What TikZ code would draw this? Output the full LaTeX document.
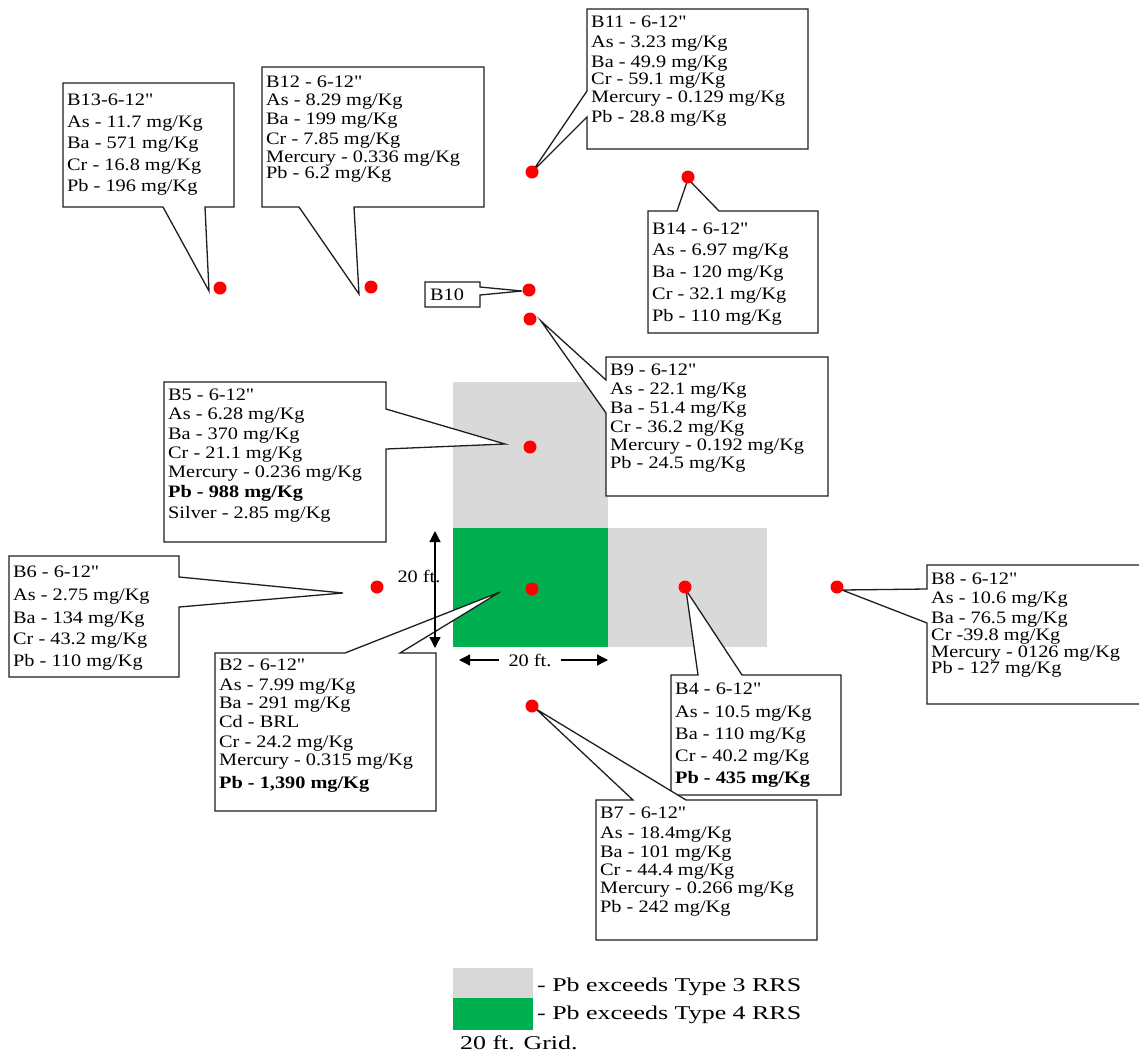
\documentclass[tikz,border=0pt]{standalone}
\usepackage{fontspec}
\setmainfont{Liberation Serif}[FakeStretch=1.16,Ligatures=TeXOff]
\newfontfamily\legendfont{Liberation Serif}[FakeStretch=1.33]
\usetikzlibrary{arrows.meta}
\definecolor{lightgrid}{RGB}{217,217,217}
\definecolor{wordgreen}{RGB}{0,176,80}
\definecolor{dotred}{RGB}{255,0,0}
\definecolor{boxline}{RGB}{30,30,30}

% straight inch mark
\newcommand\inch{\symbol{34}}

% one text line per sample result, placed by its baseline
\newcommand\calloutlines[3]{%
  \foreach \yy/\txt [count=\i] in {#3}{\node[ctext] (#1-\i) at (#2,\yy+5) {\txt};}}

\begin{document}
\begin{tikzpicture}[x=1pt,y=-1pt,
  callout/.style={draw=boxline,line width=1.3pt,fill=white,line join=miter},
  frame/.style={anchor=north west,inner sep=0pt,outer sep=0pt},
  ctext/.style={anchor=base west,inner sep=0pt,font=\fontsize{17.5}{20}\selectfont},
  lab/.style={inner sep=0pt,font=\fontsize{17.5}{20}\selectfont},
  legtext/.style={anchor=base west,inner sep=0pt,font=\legendfont\fontsize{19.5}{22}\selectfont},
  sample/.style={circle,fill=dotred,inner sep=0pt,minimum size=13pt},
  dimline/.style={line width=1.3pt,draw=black},
  tip/.style={-{Triangle[length=11pt,width=11pt]}}]

\useasboundingbox (0,0) rectangle (1139,1055);

% grid cells
\node[frame,fill=lightgrid,minimum width=155pt,minimum height=146pt] (sq5) at (453,382) {};
\node[frame,fill=wordgreen,minimum width=155pt,minimum height=119pt] (sq2) at (453,528) {};
\node[frame,fill=lightgrid,minimum width=159pt,minimum height=119pt] (sq4) at (608,528) {};

% callout frames
\node[frame,minimum width=171pt,minimum height=124pt] (bx13) at (63,83) {};
\node[frame,minimum width=222pt,minimum height=140pt] (bx12) at (262,67) {};
\node[frame,minimum width=221pt,minimum height=140pt] (bx11) at (587,9) {};
\node[frame,minimum width=170pt,minimum height=122pt] (bx14) at (648,211) {};
\node[frame,minimum width=55pt,minimum height=25pt] (bx10) at (425,282) {};
\node[frame,minimum width=222pt,minimum height=139pt] (bx9) at (606,357) {};
\node[frame,minimum width=222pt,minimum height=160pt] (bx5) at (164,382) {};
\node[frame,minimum width=170pt,minimum height=121pt] (bx6) at (9,556) {};
\node[frame,minimum width=221pt,minimum height=158pt] (bx2) at (215,653) {};
\node[frame,minimum width=170pt,minimum height=120pt] (bx4) at (671,675) {};
\node[frame,minimum width=240pt,minimum height=139pt] (bx8) at (927,565) {};
\node[frame,minimum width=221pt,minimum height=140pt] (bx7) at (596,800) {};

% pointer tips
\coordinate (t13) at (209,291);
\coordinate (t12) at (359,294);
\coordinate (t11) at (532,172);
\coordinate (t14) at (688,179);
\coordinate (t10) at (522,291);
\coordinate (t9) at (541,321);
\coordinate (t5) at (505,444);
\coordinate (t6) at (343,593);
\coordinate (t2) at (500,592);
\coordinate (t4) at (686,590);
\coordinate (t8) at (842,590);
\coordinate (t7) at (536,709);

% callout outlines
\draw[callout] (bx13.north west) -- (bx13.north east) -- (bx13.south east) -- (205,207) -- (t13) -- (163,207) -- (bx13.south west) -- cycle;
\draw[callout] (bx12.north west) -- (bx12.north east) -- (bx12.south east) -- (354,207) -- (t12) -- (299,207) -- (bx12.south west) -- cycle;
\draw[callout] (bx11.north west) -- (bx11.north east) -- (bx11.south east) -- (bx11.south west) -- (587,117) -- (t11) -- (587,91) -- cycle;
\draw[callout] (bx14.north west) -- (677,211) -- (t14) -- (719,211) -- (bx14.north east) -- (bx14.south east) -- (bx14.south west) -- cycle;
\draw[callout] (bx10.north west) -- (bx10.north east) -- (480,287) -- (t10) -- (480,295) -- (bx10.south east) -- (bx10.south west) -- cycle;
\draw[callout] (bx9.north west) -- (bx9.north east) -- (bx9.south east) -- (bx9.south west) -- (606,413) -- (t9) -- (606,380) -- cycle;
\draw[callout] (bx5.north west) -- (bx5.north east) -- (386,409) -- (t5) -- (386,449) -- (bx5.south east) -- (bx5.south west) -- cycle;
\draw[callout] (bx6.north west) -- (bx6.north east) -- (179,577) -- (t6) -- (179,607) -- (bx6.south east) -- (bx6.south west) -- cycle;
\draw[callout] (bx2.north west) -- (345,653) -- (t2) -- (400,653) -- (bx2.north east) -- (bx2.south east) -- (bx2.south west) -- cycle;
\draw[callout] (bx4.north west) -- (698,675) -- (t4) -- (742,675) -- (bx4.north east) -- (bx4.south east) -- (bx4.south west) -- cycle;
\draw[callout] (bx8.north west) -- (bx8.north east) -- (bx8.south east) -- (bx8.south west) -- (927,623) -- (t8) -- (927,589) -- cycle;
\draw[callout] (bx7.north west) -- (633,800) -- (t7) -- (686,800) -- (bx7.north east) -- (bx7.south east) -- (bx7.south west) -- cycle;

% callout texts
\calloutlines{b13}{67}{100/{B13-6-12\inch},122/{As - 11.7 mg/Kg},143/{Ba - 571 mg/Kg},165/{Cr - 16.8 mg/Kg},186/{Pb - 196 mg/Kg}}
\calloutlines{b12}{266}{82/{B12 - 6-12\inch},100/{As - 8.29 mg/Kg},119/{Ba - 199 mg/Kg},139/{Cr - 7.85 mg/Kg},157/{Mercury - 0.336 mg/Kg},173/{Pb - 6.2 mg/Kg}}
\calloutlines{b11}{591}{22/{B11 - 6-12\inch},42/{As - 3.23 mg/Kg},62/{Ba - 49.9 mg/Kg},79/{Cr - 59.1 mg/Kg},97/{Mercury - 0.129 mg/Kg},117/{Pb - 28.8 mg/Kg}}
\calloutlines{b14}{652}{229/{B14 - 6-12\inch},250/{As - 6.97 mg/Kg},272/{Ba - 120 mg/Kg},294/{Cr - 32.1 mg/Kg},316/{Pb - 110 mg/Kg}}
\calloutlines{b10}{430}{295/{B10}}
\calloutlines{b9}{610}{370/{B9 - 6-12\inch},389/{As - 22.1 mg/Kg},408/{Ba - 51.4 mg/Kg},427/{Cr - 36.2 mg/Kg},445/{Mercury - 0.192 mg/Kg},463/{Pb - 24.5 mg/Kg}}
\calloutlines{b5}{168}{395/{B5 - 6-12\inch},414/{As - 6.28 mg/Kg},434/{Ba - 370 mg/Kg},453/{Cr - 21.1 mg/Kg},472/{Mercury - 0.236 mg/Kg},492/{\bfseries Pb - 988 mg/Kg},513/{Silver - 2.85 mg/Kg}}
\calloutlines{b6}{13}{572/{B6 - 6-12\inch},595/{As - 2.75 mg/Kg},618/{Ba - 134 mg/Kg},639/{Cr - 43.2 mg/Kg},661/{Pb - 110 mg/Kg}}
\calloutlines{b2}{219}{665/{B2 - 6-12\inch},685/{As - 7.99 mg/Kg},703/{Ba - 291 mg/Kg},722/{Cd - BRL},742/{Cr - 24.2 mg/Kg},760/{Mercury - 0.315 mg/Kg},783/{\bfseries Pb - 1,390 mg/Kg}}
\calloutlines{b4}{675}{689/{B4 - 6-12\inch},712/{As - 10.5 mg/Kg},734/{Ba - 110 mg/Kg},756/{Cr - 40.2 mg/Kg},778/{\bfseries Pb - 435 mg/Kg}}
\calloutlines{b8}{931}{579/{B8 - 6-12\inch},598/{As - 10.6 mg/Kg},618/{Ba - 76.5 mg/Kg},635/{Cr -39.8 mg/Kg},652/{Mercury - 0126 mg/Kg},668/{Pb - 127 mg/Kg}}
\calloutlines{b7}{600}{813/{B7 - 6-12\inch},833/{As - 18.4mg/Kg},852/{Ba - 101 mg/Kg},870/{Cr - 44.4 mg/Kg},888/{Mercury - 0.266 mg/Kg},907/{Pb - 242 mg/Kg}}

% sampling points
\node[sample] (d13) at (220,288) {};
\node[sample] (d12) at (371,287) {};
\node[sample] (d11) at (532,172) {};
\node[sample] (d14) at (688,177) {};
\node[sample] (d10) at (529,290) {};
\node[sample] (d9) at (530,319) {};
\node[sample] (d5) at (530,447) {};
\node[sample] (d6) at (377,587) {};
\node[sample] (d2) at (532,589) {};
\node[sample] (d4) at (685,587) {};
\node[sample] (d8) at (837,587) {};
\node[sample] (d7) at (532,706) {};

% grid dimensions
\coordinate (vtop) at (435,531);
\coordinate (vbot) at (435,648);
\draw[dimline,{Triangle[length=11pt,width=11pt]}-{Triangle[length=11pt,width=11pt]}] (vtop) -- (vbot);
\node[lab] (vlab) at (419,576) {20 ft.};
\node[lab,inner xsep=9pt] (hlab) at (530,660) {20 ft.};
\coordinate (hleft) at (459,660);
\coordinate (hright) at (608,660);
\draw[dimline,tip] (hlab.west) -- (hleft);
\draw[dimline,tip] (hlab.east) -- (hright);

% legend
\node[frame,fill=lightgrid,minimum width=80pt,minimum height=30pt] (leg3) at (453,968) {};
\node[frame,fill=wordgreen,minimum width=80pt,minimum height=32pt] (leg4) at (453,998) {};
\node[legtext] (leg3t) at (537,991) {- Pb exceeds Type 3 RRS};
\node[legtext] (leg4t) at (537,1019) {- Pb exceeds Type 4 RRS};
\node[legtext] (leggrid) at (460,1049) {20 ft. Grid.};

\end{tikzpicture}
\end{document}
